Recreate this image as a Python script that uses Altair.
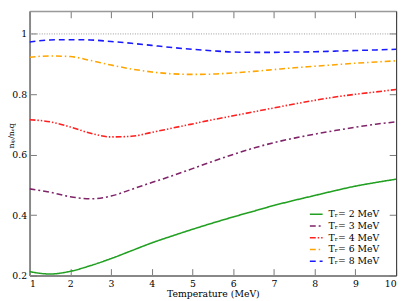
import altair as alt
import pandas as pd

# ---- data ----
temps = [1.0, 1.5, 2.0, 2.5, 3.0, 3.5, 4.0, 4.5, 5.0, 5.5, 6.0, 6.5, 7.0, 7.5, 8.0, 8.5, 9.0, 9.5, 10.0]

tr2 = [0.213, 0.205, 0.214, 0.233, 0.256, 0.282, 0.308, 0.331, 0.353, 0.374, 0.394, 0.413, 0.432, 0.449, 0.465, 0.481, 0.496, 0.508, 0.519]
tr3 = [0.487, 0.476, 0.461, 0.454, 0.463, 0.485, 0.508, 0.530, 0.554, 0.578, 0.601, 0.622, 0.640, 0.655, 0.668, 0.680, 0.691, 0.701, 0.709]
tr4 = [0.716, 0.709, 0.692, 0.671, 0.659, 0.661, 0.674, 0.688, 0.702, 0.716, 0.729, 0.742, 0.755, 0.768, 0.780, 0.791, 0.800, 0.808, 0.816]
tr6 = [0.923, 0.927, 0.925, 0.912, 0.897, 0.884, 0.874, 0.868, 0.866, 0.867, 0.871, 0.876, 0.882, 0.888, 0.893, 0.898, 0.903, 0.907, 0.911]
tr8 = [0.973, 0.980, 0.981, 0.980, 0.975, 0.969, 0.962, 0.955, 0.949, 0.944, 0.940, 0.939, 0.939, 0.940, 0.941, 0.943, 0.945, 0.947, 0.949]

series_labels = ["T\u1d63= 2 MeV", "T\u1d63= 3 MeV", "T\u1d63= 4 MeV", "T\u1d63= 6 MeV", "T\u1d63= 8 MeV"]
series_colors = ["#22a022", "#7f2468", "#ff2020", "#ffa500", "#1a1aff"]
series_dashes = [[1, 0], [6, 3, 2, 3], [6, 2, 1.5, 2, 1.5, 2], [6, 3, 1.5, 3], [6, 4]]

ref_x = [1.0, 10.0]
ref_y = [1.0, 1.0]

x_ticks = [1, 2, 3, 4, 5, 6, 7, 8, 9, 10]
y_ticks = [0.2, 0.4, 0.6, 0.8, 1.0]

rows = []
for lab, vals in zip(series_labels, [tr2, tr3, tr4, tr6, tr8]):
    for t, v in zip(temps, vals):
        rows.append({"T": t, "n": v, "series": lab})
df = pd.DataFrame(rows)
ref_df = pd.DataFrame({"T": ref_x, "n": ref_y})

W, H = 374, 270
FONT = "DejaVu Serif"
xscale = alt.Scale(domain=[1, 10], nice=False, zero=False)
yscale = alt.Scale(domain=[0.2, 1.0762], nice=False, zero=False)

legend = alt.Legend(
    title=None, orient="none", legendX=285, legendY=200,
    symbolType="stroke", symbolSize=169, symbolStrokeWidth=1.6,
    labelFont=FONT, labelFontSize=9.5, labelColor="#000", labelOffset=5,
    rowPadding=0, padding=0,
)

lines = alt.Chart(df).mark_line(interpolate="monotone", strokeWidth=1.6, clip=True).encode(
    x=alt.X("T:Q", scale=xscale, axis=alt.Axis(
        orient="bottom", values=x_ticks, format="d", ticks=False, grid=False,
        domainColor="#888", domainWidth=2, labelFont=FONT, labelFontSize=9.5,
        labelColor="#000", labelPadding=3, title="Temperature (MeV)", titleFont=FONT,
        titleFontSize=9.5, titleFontWeight="normal", titleColor="#000", titlePadding=1)),
    y=alt.Y("n:Q", scale=yscale, axis=alt.Axis(
        orient="left", values=y_ticks, format=".1~f", ticks=False, grid=False,
        domainColor="#888", domainWidth=2, labelFont=FONT, labelFontSize=9.5,
        labelColor="#000", labelPadding=3, title="n\u1d62\u209a/n\u2091q", titleFont=FONT,
        titleFontSize=8, titleFontWeight="normal", titleColor="#000",
        titleX=-22, titleY=127, titleAngle=270, titleBaseline="top", titleAlign="center")),
    color=alt.Color("series:N", scale=alt.Scale(domain=series_labels, range=series_colors), legend=legend),
    strokeDash=alt.StrokeDash("series:N", scale=alt.Scale(domain=series_labels, range=series_dashes), legend=legend),
)

refline = alt.Chart(ref_df).mark_line(color="#999", strokeWidth=1, strokeDash=[1, 1.5]).encode(
    x=alt.X("T:Q", scale=xscale, axis=alt.Axis(
        orient="top", offset=-H, values=x_ticks, labels=False, domain=False, grid=False,
        ticks=True, tickSize=7, tickColor="#777", tickWidth=1, title=None)),
    y=alt.Y("n:Q", scale=yscale, axis=alt.Axis(
        orient="right", offset=-W, values=y_ticks, labels=False, domain=False, grid=False,
        ticks=True, tickSize=7, tickColor="#777", tickWidth=1, title=None)),
)

frame = alt.Chart(ref_df).mark_line(opacity=0).encode(
    x=alt.X("T:Q", scale=xscale, axis=alt.Axis(
        orient="bottom", offset=-H, values=x_ticks, labels=False, domain=True,
        domainColor="#999", domainWidth=1.5, grid=False,
        ticks=True, tickSize=7, tickColor="#777", tickWidth=1, title=None)),
    y=alt.Y("n:Q", scale=yscale, axis=alt.Axis(
        orient="left", offset=-W, values=y_ticks, labels=False, domain=True,
        domainColor="#444", domainWidth=1.2, grid=False,
        ticks=True, tickSize=7, tickColor="#777", tickWidth=1, title=None)),
)

chart = alt.layer(refline, frame, lines).resolve_axis(
    x="independent", y="independent"
).properties(
    width=W, height=H, autosize="none",
    padding={"left": 22, "top": 0, "right": 5, "bottom": 22},
).configure_view(stroke=None)

chart.save("out.html", embed_options={"renderer": "svg", "actions": False})
